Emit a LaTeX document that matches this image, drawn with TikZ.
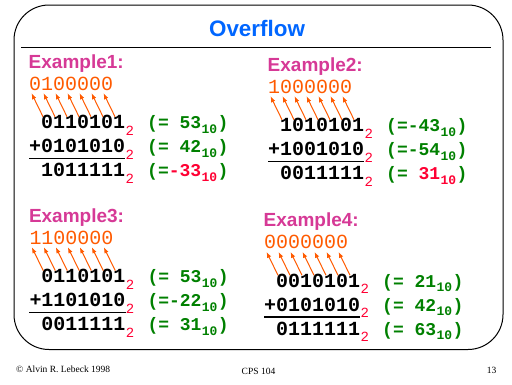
\documentclass[tikz,border=0pt]{standalone}
\usepackage{fontspec}
\setmainfont{Liberation Serif}
\newfontfamily\helv{Liberation Sans}
\newfontfamily\mono{Liberation Mono}
\usetikzlibrary{arrows.meta}
\definecolor{ttlblue}{RGB}{0,102,255}
\definecolor{exmag}{RGB}{214,57,150}
\definecolor{carryor}{RGB}{255,90,0}
\definecolor{decgrn}{RGB}{0,128,0}
\definecolor{ovred}{RGB}{255,0,51}
\tikzset{
  lbl/.style={anchor=base west, inner sep=0pt, text=exmag, font=\helv\bfseries\fontsize{19}{19}\selectfont},
  carryt/.style={anchor=base west, inner sep=0pt, text=carryor, font=\mono\fontsize{20}{20}\selectfont},
  rowt/.style={anchor=base west, inner sep=0pt, text=black, font=\mono\bfseries\fontsize{20}{20}\selectfont},
  subtwo/.style={anchor=base west, inner sep=0pt, text=ovred, font=\mono\fontsize{14}{14}\selectfont},
  grn/.style={anchor=base west, inner sep=0pt, text=decgrn, font=\mono\bfseries\fontsize{18}{18}\selectfont},
  grnsub/.style={anchor=base west, inner sep=0pt, text=decgrn, font=\mono\bfseries\fontsize{13}{13}\selectfont},
  carrow/.style={draw=carryor, line width=1pt, -{Latex[length=6pt,width=4.4pt]}},
  sumline/.style={draw=black, line width=1.8pt},
  foot/.style={anchor=base west, inner sep=0pt, font=\fontsize{9.5}{9.5}\selectfont}
}
% #1 prefix, #2 label, #3 carry, #4 row1, #5 row2, #6 row3
\newcommand\ovexample[6]{%
  \node[lbl] (#1l) at (-0.5,-60.5) {#2};
  \node[carryt] (#1c) at (0,-38.5) {#3};
  \node[rowt] (#1a) at (12,0) {#4};
  \node[rowt] (#1b) at (0,24) {#5};
  \node[rowt] (#1s) at (12,48) {#6};
  \node[subtwo] (#1a2) at ([yshift=-6.6pt]#1a.base east) {2};
  \node[subtwo] (#1b2) at ([yshift=-6.6pt]#1b.base east) {2};
  \node[subtwo] (#1s2) at ([yshift=-6.6pt]#1s.base east) {2};
  \draw[sumline] ([yshift=-5.7pt]#1b.base west) -- ([yshift=-5.7pt]#1b.base east);
  \foreach \k in {0,...,6}{
    \draw[carrow] ([xshift={12*\k+2}, yshift=12pt]#1a.base west) -- ([xshift={12*\k+2.5}, yshift=-3pt]#1c.base west);
  }}
% #1 name, #2 y, #3 text, #4 subscript colour
\newcommand\greenrow[4]{%
  \node[grn] (#1) at (118,#2) {#3};
  \node[grnsub, text=#4] (#1s) at ([yshift=-4.6pt]#1.base east) {10};
  \node[grn] (#1p) at (#1s.base east |- #1.base) {)};}
\begin{document}
\begin{tikzpicture}[x=1pt,y=-1pt]
\useasboundingbox (0,0) rectangle (512,384);
% frame
\draw[line width=1pt, rounded corners=35pt] (14,5) rectangle (503,349.5);
\node[anchor=base, inner sep=0pt, text=ttlblue, font=\helv\bfseries\fontsize{22.4}{22.4}\selectfont] (title) at (257,36.7) {Overflow};
\coordinate (rl) at (21,47);
\coordinate (rr) at (491,47);
\draw[line width=1pt] (rl) -- (rr);

% Example 1
\begin{scope}[shift={(29,128.7)}]
\ovexample{ea}{Example1:}{0100000}{0110101}{+0101010}{1011111}
\greenrow{eag1}{0}{(= 53}{decgrn}
\greenrow{eag2}{24}{(= 42}{decgrn}
\greenrow{eag3}{48}{(=\textcolor{ovred}{-33}}{ovred}
\end{scope}

% Example 2
\begin{scope}[shift={(268,131.7)}]
\ovexample{eb}{Example2:}{1000000}{1010101}{+1001010}{0011111}
\greenrow{ebg1}{0}{(=-43}{decgrn}
\greenrow{ebg2}{24}{(=-54}{decgrn}
\greenrow{ebg3}{48}{(= \textcolor{ovred}{31}}{ovred}
\end{scope}

% Example 3
\begin{scope}[shift={(29.3,282.7)}]
\ovexample{ec}{Example3:}{1100000}{0110101}{+1101010}{0011111}
\greenrow{ecg1}{0}{(= 53}{decgrn}
\greenrow{ecg2}{24}{(=-22}{decgrn}
\greenrow{ecg3}{48}{(= 31}{decgrn}
\end{scope}

% Example 4
\begin{scope}[shift={(264,287.3)}]
\ovexample{ed}{Example4:}{0000000}{0010101}{+0101010}{0111111}
\greenrow{edg1}{0}{(= 21}{decgrn}
\greenrow{edg2}{24}{(= 42}{decgrn}
\greenrow{edg3}{48}{(= 63}{decgrn}
\end{scope}

% footer
\node[foot] (copy) at (16,372.5) {© Alvin R. Lebeck 1998};
\node[foot, anchor=base] (course) at (258.5,374) {CPS 104};
\node[foot, anchor=base east] (page) at (496.5,373) {13};
\end{tikzpicture}
\end{document}
